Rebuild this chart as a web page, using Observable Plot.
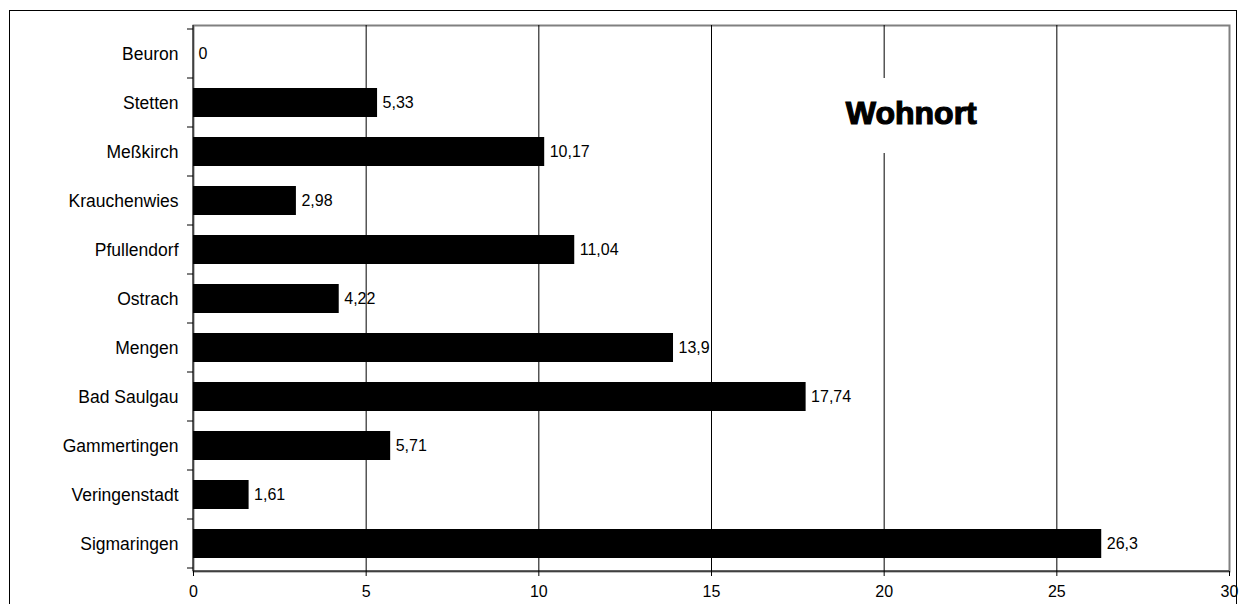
<!DOCTYPE html>
<html>
<head>
<meta charset="utf-8">
<script src="https://cdn.jsdelivr.net/npm/d3@7"></script>
<script src="https://cdn.jsdelivr.net/npm/@observablehq/plot@0.6"></script>
<style>
  html, body { margin: 0; padding: 0; background: #fff; overflow: hidden; }
  #wrap { position: relative; width: 1242px; height: 604px; }
  #outer { position: absolute; left: 9px; top: 10px; width: 1228px; height: 700px; border: 1px solid #000; box-sizing: border-box; pointer-events: none; }
  #chart { position: absolute; left: 0; top: 0; }
</style>
</head>
<body>
<div id="wrap"><div id="chart"></div><div id="outer"></div></div>
<script>
const categories = ["Beuron", "Stetten", "Meßkirch", "Krauchenwies", "Pfullendorf", "Ostrach", "Mengen", "Bad Saulgau", "Gammertingen", "Veringenstadt", "Sigmaringen"];
const values = [0, 5.33, 10.17, 2.98, 11.04, 4.22, 13.9, 17.74, 5.71, 1.61, 26.3];
const xTicks = [0, 5, 10, 15, 20, 25, 30];
const gridLines = [5, 10, 15, 20, 25];
const title = "Wohnort";

const data = categories.map((c, i) => ({ort: c, wert: values[i]}));
const fmt = v => String(v).replace(".", ",");
const font = "'Liberation Sans', Arial, sans-serif";

// custom mark: axis lines, band boundary ticks, title box
function extras(index, scales, values_, dim) {
  const y = scales.y, x = scales.x;
  const step = y.step(), bw = y.bandwidth();
  const left = dim.marginLeft, right = dim.width - dim.marginRight;
  const top = dim.marginTop, bottom = dim.height - dim.marginBottom;
  const g = d3.create("svg:g");
  const dom = y.domain();
  const bounds = dom.map(c => y(c) - (step - bw) / 2);
  bounds.push(bounds[bounds.length - 1] + step);
  g.selectAll("line.t").data(bounds).join("line")
    .attr("x1", left - 6).attr("x2", left).attr("y1", d => d).attr("y2", d => d)
    .attr("stroke", "#000");
  g.append("line").attr("x1", left).attr("x2", left).attr("y1", top).attr("y2", bottom).attr("stroke", "#000");
  g.append("line").attr("x1", left).attr("x2", right).attr("y1", bottom).attr("y2", bottom).attr("stroke", "#000");
  // title with white box interrupting grid
  const cx = x(20.8);
  const y0 = y(categories[1]) - (step - bw) / 2;
  g.append("rect").attr("x", cx - 75).attr("y", y0).attr("width", 150).attr("height", 75).attr("fill", "#fff");
  g.append("text").attr("x", cx).attr("y", y0 + 46).attr("text-anchor", "middle")
    .attr("font-family", font).attr("font-weight", "900").attr("font-size", 32)
    .attr("stroke", "#000").attr("stroke-width", 1.2).attr("fill", "#000").text(title);
  return g.node();
}

const chart = Plot.plot({
  width: 1242,
  height: 604,
  marginTop: 25,
  marginBottom: 33,
  marginLeft: 193,
  marginRight: 13,
  style: { fontFamily: font, fontSize: "16px", color: "#000", background: "transparent" },
  x: { domain: [0, 30] },
  y: { domain: categories, paddingInner: 0.415, paddingOuter: 0.2075 },
  marks: [
    Plot.frame({ stroke: "#808080", strokeWidth: 2 }),
    Plot.ruleX(gridLines, { stroke: "#000", strokeWidth: 1 }),
    Plot.barX(data, { x: "wert", y: "ort", fill: "#000" }),
    Plot.text(data, { x: "wert", y: "ort", text: d => fmt(d.wert), textAnchor: "start", dx: 5, fontSize: 16, fill: "#000" }),
    Plot.axisY({ tickSize: 0, tickPadding: 15, fontSize: 17.5, label: null }),
    Plot.axisX({ ticks: xTicks, tickSize: 5, tickPadding: 9, fontSize: 16, label: null, tickFormat: d => String(d) }),
    extras
  ]
});
document.getElementById("chart").appendChild(chart);
</script>
</body>
</html>
